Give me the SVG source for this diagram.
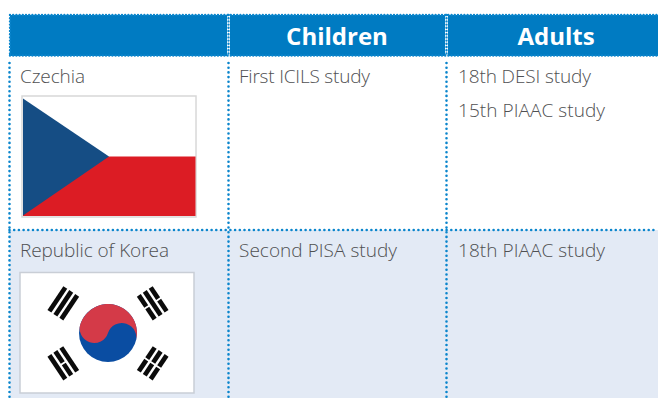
<svg xmlns="http://www.w3.org/2000/svg" width="658" height="398" viewBox="0 0 658 398">
<style>
.t{font-family:"Open Sans","Noto Sans","Liberation Sans",sans-serif;font-weight:300;font-size:19px;fill:#4f5052}
.h{font-family:"Open Sans","Noto Sans","Liberation Sans",sans-serif;font-weight:700;font-size:24px;fill:#fff;text-anchor:middle}
.d{stroke:#0a85cc;stroke-width:2.600;stroke-linecap:round;stroke-dasharray:0 4.700;fill:none}
.dh{stroke:#0a85cc;stroke-width:2.400;stroke-linecap:round;stroke-dasharray:0 3.200;fill:none}
.k{fill:#0b0b0b}
</style>
<rect width="658" height="398" fill="#fff"/>
<g id="header">
<rect x="10" y="15" width="648" height="41" fill="#007bc2"/>
<rect x="227" y="15" width="3" height="41" fill="#fff"/>
<rect x="445" y="15" width="3" height="41" fill="#fff"/>
<text class="h" x="337" y="45">Children</text>
<text class="h" x="556" y="45">Adults</text>
</g>
<g id="row-shade"><rect x="10" y="230" width="648" height="168" fill="#e3eaf5"/></g>
<g id="grid">
<path class="dh" d="M10 15H658M10 55.500H658M10 15V55M228.500 15V55M446.500 15V55"/>
<path class="d" d="M9.500 63V398M228.500 63V398M446.500 63V398M9.500 230H658"/>
</g>
<g id="czechia">
<text class="t" x="20" y="83" textLength="65">Czechia</text>
<rect x="22" y="96" width="174" height="121" fill="#fff" stroke="#d8d8d8" stroke-width="1.500"/>
<rect x="23" y="156.500" width="172.500" height="59.500" fill="#dc1c24"/>
<path d="M23 98.500L109 156.500L23 215.500Z" fill="#154d84"/>
</g>
<g id="korea">
<text class="t" x="20" y="257" textLength="149">Republic of Korea</text>
<rect x="20" y="272.500" width="174" height="120.500" fill="#fff" stroke="#c9ced6" stroke-width="1.500"/>
<circle cx="108" cy="333" r="29" fill="#0a4da2"/>
<path d="M80.400 324A29 29 0 0 1 135.600 342A14.500 14.500 0 0 0 108 333A14.500 14.500 0 0 1 80.400 324Z" fill="#d43a48"/>
<g class="k" transform="translate(63.300 303.300) rotate(-56.300)">
<rect x="-14.300" y="-9.500" width="28.600" height="4.700"/><rect x="-14.300" y="-2.350" width="28.600" height="4.700"/><rect x="-14.300" y="4.800" width="28.600" height="4.700"/>
</g>
<g class="k" transform="translate(152.700 303.300) rotate(56.300)">
<rect x="-14.300" y="-9.500" width="13.400" height="4.700"/><rect x="0.900" y="-9.500" width="13.400" height="4.700"/><rect x="-14.300" y="-2.350" width="28.600" height="4.700"/><rect x="-14.300" y="4.800" width="13.400" height="4.700"/><rect x="0.900" y="4.800" width="13.400" height="4.700"/>
</g>
<g class="k" transform="translate(63.300 363.300) rotate(56.300)">
<rect x="-14.300" y="-9.500" width="28.600" height="4.700"/><rect x="-14.300" y="-2.350" width="13.400" height="4.700"/><rect x="0.900" y="-2.350" width="13.400" height="4.700"/><rect x="-14.300" y="4.800" width="28.600" height="4.700"/>
</g>
<g class="k" transform="translate(152.700 363.300) rotate(-56.300)">
<rect x="-14.300" y="-9.500" width="13.400" height="4.700"/><rect x="0.900" y="-9.500" width="13.400" height="4.700"/><rect x="-14.300" y="-2.350" width="13.400" height="4.700"/><rect x="0.900" y="-2.350" width="13.400" height="4.700"/><rect x="-14.300" y="4.800" width="13.400" height="4.700"/><rect x="0.900" y="4.800" width="13.400" height="4.700"/>
</g>
</g>
<g id="studies">
<text class="t" x="239" y="83" textLength="131">First ICILS study</text>
<text class="t" x="458" y="83" textLength="133">18th DESI study</text>
<text class="t" x="458" y="117" textLength="147">15th PIAAC study</text>
<text class="t" x="239" y="257" textLength="158">Second PISA study</text>
<text class="t" x="458" y="257" textLength="147">18th PIAAC study</text>
</g>
</svg>
